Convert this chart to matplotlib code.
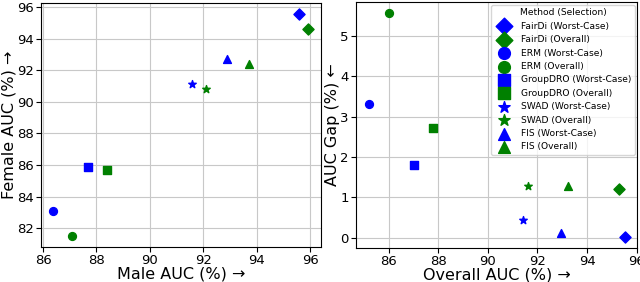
import numpy as np
import matplotlib.pyplot as plt

methods = ["FairDi", "ERM", "GroupDRO", "SWAD", "FIS"]
markers = ["D", "o", "s", "*", "^"]
selections = ["Worst-Case", "Overall"]
colors = ["blue", "green"]

# left panel: male / female AUC, [worst-case, overall] per method
male_auc = [[95.58, 95.92], [86.39, 87.07], [87.67, 88.40], [91.57, 92.12], [92.90, 93.71]]
female_auc = [[95.54, 94.63], [83.10, 81.52], [85.90, 85.71], [91.14, 90.83], [92.73, 92.38]]

# right panel: overall AUC / AUC gap
overall_auc = [[95.51, 95.29], [85.20, 86.00], [87.04, 87.81], [91.40, 91.61], [92.94, 93.21]]
auc_gap = [[0.02, 1.20], [3.31, 5.57], [1.80, 2.72], [0.44, 1.28], [0.11, 1.27]]

fig = plt.figure(figsize=(6.4, 2.82), dpi=100)
ax1 = fig.add_axes([0.0636, 0.124, 0.4375, 0.865])
ax2 = fig.add_axes([0.556, 0.121, 0.440, 0.872])

for i, m in enumerate(methods):
    for j, sel in enumerate(selections):
        ax1.scatter(male_auc[i][j], female_auc[i][j], marker=markers[i], color=colors[j], s=32, zorder=3)
        ax2.scatter(overall_auc[i][j], auc_gap[i][j], marker=markers[i], color=colors[j], s=32, zorder=3,
                    label=f"{m} ({sel})")

for ax in (ax1, ax2):
    ax.grid(True, color="#c8c8c8", linewidth=0.8)
    ax.set_axisbelow(True)
    ax.tick_params(labelsize=9.5, pad=1.5)

ax1.set_xticks([86, 88, 90, 92, 94, 96])
ax1.set_yticks([82, 84, 86, 88, 90, 92, 94, 96])
ax1.set_xlabel("Male AUC (%) →", fontsize=11.5, labelpad=0)
ax1.set_ylabel("Female AUC (%) →", fontsize=11.5, labelpad=0.5)

ax2.set_xticks([86, 88, 90, 92, 94, 96])
ax2.set_yticks([0, 1, 2, 3, 4, 5])
ax2.set_xlabel("Overall AUC (%) →", fontsize=11.5, labelpad=0)
ax2.set_ylabel("AUC Gap (%) ←", fontsize=11.5, labelpad=0.5)

ax2.legend(title="Method (Selection)", fontsize=6.6, title_fontsize=6.6, loc="upper right",
           markerscale=1.5, labelspacing=0.48, borderaxespad=0.3)

plt.savefig("out.png", dpi=100)
